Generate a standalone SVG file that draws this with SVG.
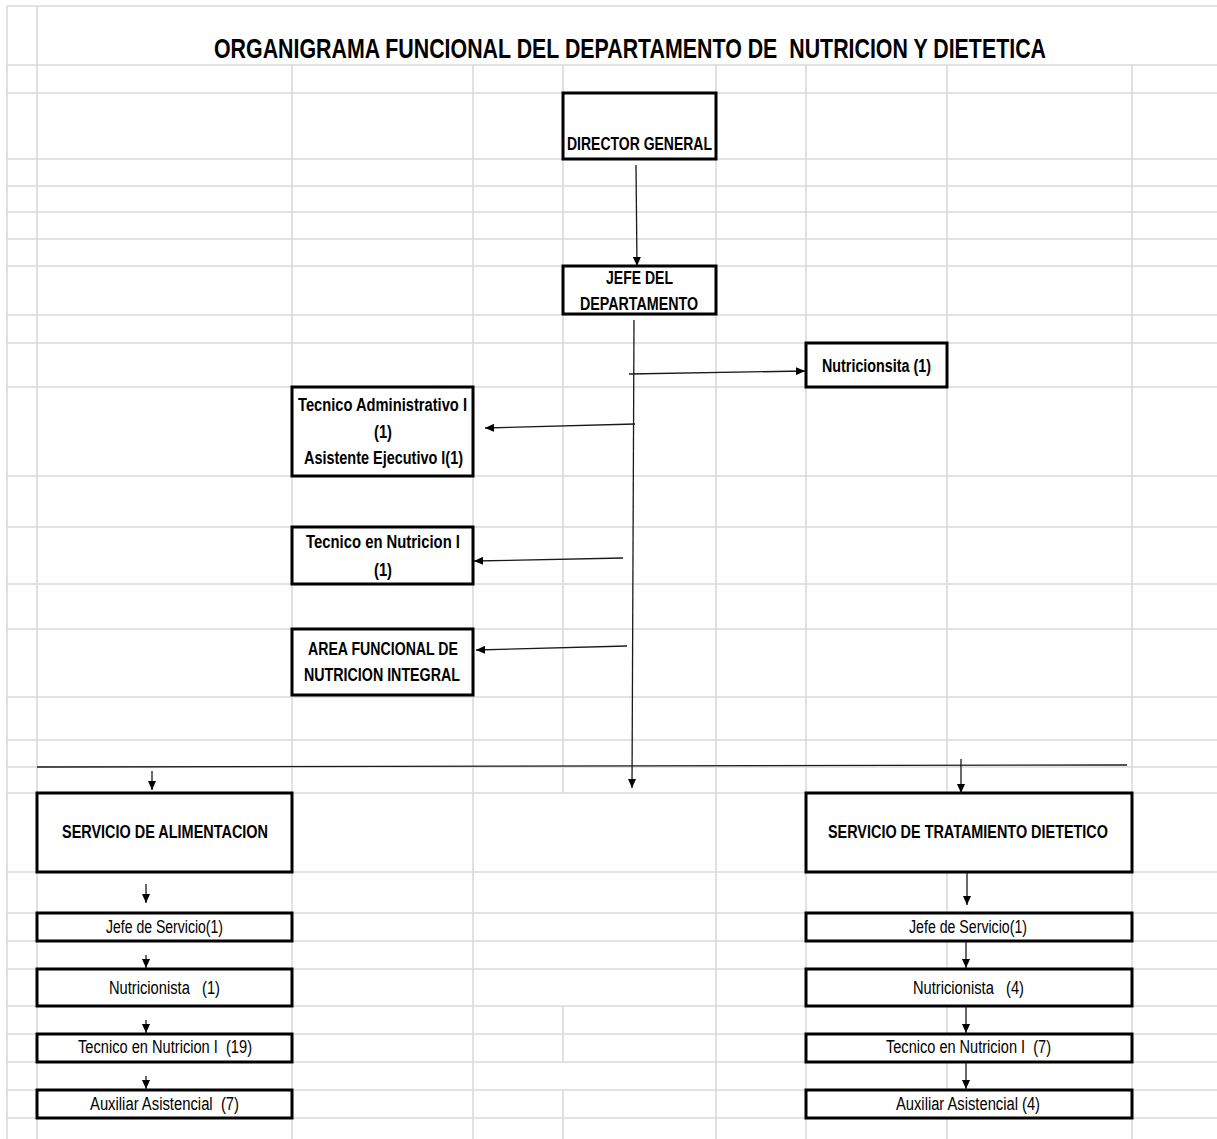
<svg xmlns="http://www.w3.org/2000/svg" width="1217" height="1139" viewBox="0 0 1217 1139">
<defs>
<style>
.grid{stroke:#dadada;stroke-width:1.6;fill:none}
.box{fill:#fff;stroke:#000;stroke-width:3}
.con{stroke:#1a1a1a;stroke-width:1.3;fill:none}
.b{font-family:"Liberation Sans Narrow","Liberation Sans",Arial,sans-serif;font-weight:bold;font-size:18px;fill:#000}
.n{font-family:"Liberation Sans Narrow","Liberation Sans",Arial,sans-serif;font-size:18px;fill:#000}
.t{font-family:"Liberation Sans Narrow","Liberation Sans",Arial,sans-serif;font-weight:bold;font-size:28px;fill:#000}
</style>
<marker id="ah" markerWidth="9" markerHeight="8" refX="9" refY="4" orient="auto" markerUnits="userSpaceOnUse"><path d="M0,0 L9,4 L0,8 z" fill="#000"/></marker>
</defs>
<rect width="1217" height="1139" fill="#fff"/>
<g id="grid">
<path class="grid" d="M7,6H1217M7,65H1217M7,93H1217M7,159H1217M7,186H1217M7,212H1217M7,239H1217M7,266H1217M7,315H1217M7,343H1217M7,387H1217M7,476H1217M7,527H1217M7,584H1217M7,629H1217M7,697H1217M7,740H1217M7,767H1217M7,793H1217M7,872H1217M7,913H1217M7,941H1217M7,969H1217M7,1006H1217M7,1034H1217M7,1062H1217M7,1090H1217M7,1118H1217"/>
<path class="grid" d="M7,6V1139M37,6V1139M292,65V1139M473,65V1139M716,65V1139M806,65V1139M947,65V1139M1132,65V1139M563,65V793M563,1006V1062M563,1090V1139"/>
</g>
<g id="title">
<text class="t" x="630" y="58" text-anchor="middle" textLength="832" lengthAdjust="spacingAndGlyphs" xml:space="preserve">ORGANIGRAMA FUNCIONAL DEL DEPARTAMENTO DE  NUTRICION Y DIETETICA</text>
</g>
<g id="director">
<rect class="box" x="563" y="93" width="153" height="66"/>
<text class="b" x="639.5" y="150" text-anchor="middle" textLength="145" lengthAdjust="spacingAndGlyphs">DIRECTOR GENERAL</text>
</g>
<g id="jefe">
<rect class="box" x="563" y="266" width="153" height="48"/>
<text class="b" x="639.5" y="284" text-anchor="middle" textLength="67" lengthAdjust="spacingAndGlyphs">JEFE DEL</text>
<text class="b" x="639" y="310" text-anchor="middle" textLength="118" lengthAdjust="spacingAndGlyphs">DEPARTAMENTO</text>
</g>
<g id="nutricionsita">
<rect class="box" x="806" y="343" width="141" height="44"/>
<text class="b" x="876.5" y="372" text-anchor="middle" textLength="109" lengthAdjust="spacingAndGlyphs">Nutricionsita (1)</text>
</g>
<g id="tecadmin">
<rect class="box" x="292" y="387" width="181" height="89"/>
<text class="b" x="382.5" y="411" text-anchor="middle" textLength="169" lengthAdjust="spacingAndGlyphs">Tecnico Administrativo I</text>
<text class="b" x="383" y="438" text-anchor="middle" textLength="18" lengthAdjust="spacingAndGlyphs">(1)</text>
<text class="b" x="383.5" y="464" text-anchor="middle" textLength="159" lengthAdjust="spacingAndGlyphs">Asistente Ejecutivo I(1)</text>
</g>
<g id="tecnutri">
<rect class="box" x="292" y="527" width="181" height="57"/>
<text class="b" x="383" y="548" text-anchor="middle" textLength="154" lengthAdjust="spacingAndGlyphs">Tecnico en Nutricion I</text>
<text class="b" x="383" y="576" text-anchor="middle" textLength="18" lengthAdjust="spacingAndGlyphs">(1)</text>
</g>
<g id="area">
<rect class="box" x="292" y="629" width="181" height="66"/>
<text class="b" x="383" y="655" text-anchor="middle" textLength="150" lengthAdjust="spacingAndGlyphs">AREA FUNCIONAL DE</text>
<text class="b" x="382" y="681" text-anchor="middle" textLength="156" lengthAdjust="spacingAndGlyphs">NUTRICION INTEGRAL</text>
</g>
<g id="serv-alim">
<rect class="box" x="37" y="793" width="255" height="79"/>
<text class="b" x="165" y="838" text-anchor="middle" textLength="206" lengthAdjust="spacingAndGlyphs">SERVICIO DE ALIMENTACION</text>
</g>
<g id="serv-trat">
<rect class="box" x="806" y="793" width="326" height="79"/>
<text class="b" x="968" y="838" text-anchor="middle" textLength="280" lengthAdjust="spacingAndGlyphs">SERVICIO DE TRATAMIENTO DIETETICO</text>
</g>
<g id="a-jefe">
<rect class="box" x="37" y="913" width="255" height="28"/>
<text class="n" x="164.5" y="933" text-anchor="middle" textLength="117" lengthAdjust="spacingAndGlyphs">Jefe de Servicio(1)</text>
</g>
<g id="a-nutri">
<rect class="box" x="37" y="969" width="255" height="37"/>
<text class="n" x="164.5" y="994" text-anchor="middle" textLength="111" lengthAdjust="spacingAndGlyphs" xml:space="preserve">Nutricionista   (1)</text>
</g>
<g id="a-tec">
<rect class="box" x="37" y="1034" width="255" height="28"/>
<text class="n" x="165" y="1053" text-anchor="middle" textLength="174" lengthAdjust="spacingAndGlyphs" xml:space="preserve">Tecnico en Nutricion I  (19)</text>
</g>
<g id="a-aux">
<rect class="box" x="37" y="1090" width="255" height="28"/>
<text class="n" x="164.5" y="1110" text-anchor="middle" textLength="149" lengthAdjust="spacingAndGlyphs" xml:space="preserve">Auxiliar Asistencial  (7)</text>
</g>
<g id="t-jefe">
<rect class="box" x="806" y="913" width="326" height="28"/>
<text class="n" x="968" y="933" text-anchor="middle" textLength="118" lengthAdjust="spacingAndGlyphs">Jefe de Servicio(1)</text>
</g>
<g id="t-nutri">
<rect class="box" x="806" y="969" width="326" height="37"/>
<text class="n" x="968.5" y="994" text-anchor="middle" textLength="111" lengthAdjust="spacingAndGlyphs" xml:space="preserve">Nutricionista   (4)</text>
</g>
<g id="t-tec">
<rect class="box" x="806" y="1034" width="326" height="28"/>
<text class="n" x="968.5" y="1053" text-anchor="middle" textLength="165" lengthAdjust="spacingAndGlyphs" xml:space="preserve">Tecnico en Nutricion I  (7)</text>
</g>
<g id="t-aux">
<rect class="box" x="806" y="1090" width="326" height="28"/>
<text class="n" x="968" y="1110" text-anchor="middle" textLength="144" lengthAdjust="spacingAndGlyphs">Auxiliar Asistencial (4)</text>
</g>
<g id="connectors">
<line class="con" x1="636" y1="165" x2="637" y2="266" marker-end="url(#ah)"/>
<line class="con" x1="634" y1="320" x2="632" y2="788" marker-end="url(#ah)"/>
<line class="con" x1="629" y1="374" x2="805" y2="371" marker-end="url(#ah)"/>
<line class="con" x1="635" y1="424" x2="485" y2="428" marker-end="url(#ah)"/>
<line class="con" x1="623" y1="558" x2="474" y2="561" marker-end="url(#ah)"/>
<line class="con" x1="627" y1="646" x2="476" y2="650" marker-end="url(#ah)"/>
<line class="con" x1="37" y1="767" x2="1127" y2="765"/>
<line class="con" x1="152" y1="771" x2="152" y2="790" marker-end="url(#ah)"/>
<line class="con" x1="961" y1="759" x2="961" y2="793" marker-end="url(#ah)"/>
<line class="con" x1="146" y1="884" x2="146" y2="903" marker-end="url(#ah)"/>
<line class="con" x1="146" y1="955" x2="146" y2="968" marker-end="url(#ah)"/>
<line class="con" x1="146" y1="1020" x2="146" y2="1033" marker-end="url(#ah)"/>
<line class="con" x1="146" y1="1076" x2="146" y2="1089" marker-end="url(#ah)"/>
<line class="con" x1="967" y1="873" x2="967" y2="905" marker-end="url(#ah)"/>
<line class="con" x1="966" y1="942" x2="966" y2="968" marker-end="url(#ah)"/>
<line class="con" x1="966" y1="1007" x2="966" y2="1033" marker-end="url(#ah)"/>
<line class="con" x1="966" y1="1063" x2="966" y2="1089" marker-end="url(#ah)"/>
</g>
</svg>
